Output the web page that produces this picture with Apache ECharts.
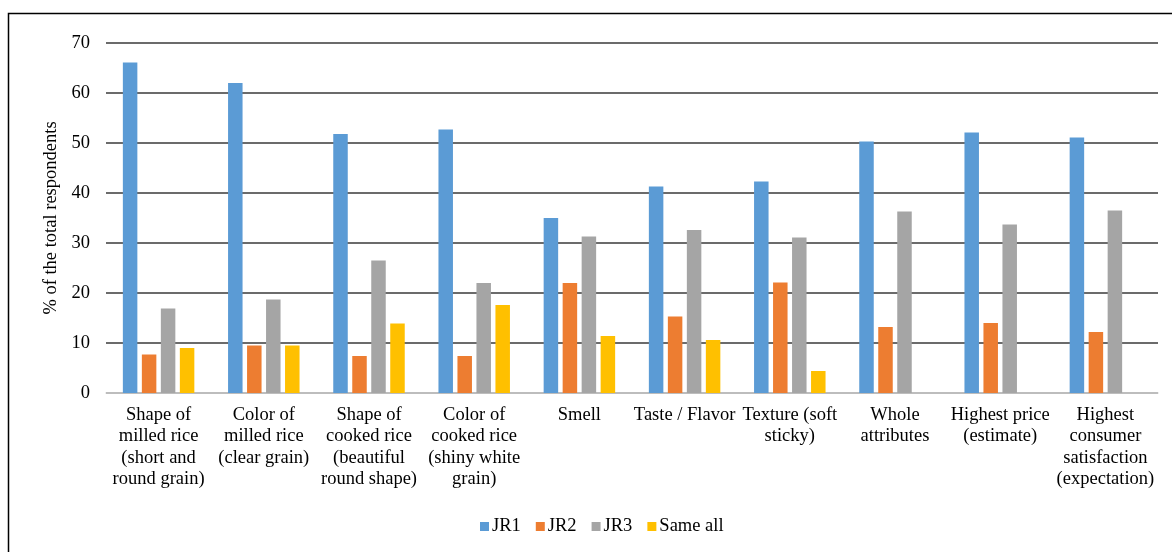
<!DOCTYPE html>
<html>
<head>
<meta charset="utf-8">
<title>Rice attribute preference</title>
<script src="https://cdn.jsdelivr.net/npm/echarts@6/dist/echarts.min.js"></script>
<style>
  html, body { margin: 0; padding: 0; background: #ffffff; }
  #chart { width: 1172px; height: 552px; }
</style>
</head>
<body>
<div id="chart"></div>
<script>
// Attribute categories (line breaks as they wrap under the axis)
const categories = [
  'Shape of\nmilled rice\n(short and\nround grain)',
  'Color of\nmilled rice\n(clear grain)',
  'Shape of\ncooked rice\n(beautiful\nround shape)',
  'Color of\ncooked rice\n(shiny white\ngrain)',
  'Smell',
  'Taste / Flavor',
  'Texture (soft\nsticky)',
  'Whole\nattributes',
  'Highest price\n(estimate)',
  'Highest\nconsumer\nsatisfaction\n(expectation)'
];

// % of respondents choosing each variety
const jr1 = [66.1, 62.0, 51.8, 52.7, 35.0, 41.3, 42.3, 50.3, 52.1, 51.1];
const jr2 = [7.7, 9.5, 7.4, 7.4, 22.0, 15.3, 22.1, 13.2, 14.0, 12.2];
const jr3 = [16.9, 18.7, 26.5, 22.0, 31.3, 32.6, 31.1, 36.3, 33.7, 36.5];
const sameAll = [9.0, 9.5, 13.9, 17.6, 11.4, 10.6, 4.4, null, null, null];

const seriesNames = ['JR1', 'JR2', 'JR3', 'Same all'];
const yTicks = { min: 0, max: 70, interval: 10 };
const yAxisTitle = '% of the total respondents';

const serif = '"Liberation Serif", "Times New Roman", serif';
const palette = ['#5B9BD5', '#ED7D31', '#A5A5A5', '#FFC000'];
const fontSize = 18.5;

const chart = echarts.init(document.getElementById('chart'), null, { renderer: 'canvas' });

const seriesData = [jr1, jr2, jr3, sameAll];

chart.setOption({
  animation: false,
  backgroundColor: '#ffffff',
  color: palette,
  textStyle: { fontFamily: serif, color: '#000' },
  graphic: [{
    type: 'rect',
    shape: { x: 8.5, y: 13.5, width: 1200, height: 600 },
    style: { fill: 'none', stroke: '#000', lineWidth: 1.5 },
    silent: true
  }],
  grid: { left: 106, right: 14, top: 43, bottom: 159 },
  legend: {
    data: seriesNames,
    left: 475,
    top: 512,
    itemWidth: 9,
    itemHeight: 9,
    itemGap: 15,
    icon: 'rect',
    textStyle: { fontFamily: serif, fontSize: fontSize, color: '#000', padding: [0, 0, 0, -2] }
  },
  xAxis: {
    type: 'category',
    data: categories,
    axisLine: { show: true, lineStyle: { color: '#d9d9d9', width: 1.5 } },
    axisTick: { show: false },
    axisLabel: {
      interval: 0,
      margin: 11,
      fontFamily: serif,
      fontSize: fontSize,
      lineHeight: 21.5,
      color: '#000',
      align: 'center'
    }
  },
  yAxis: {
    type: 'value',
    min: yTicks.min,
    max: yTicks.max,
    interval: yTicks.interval,
    name: yAxisTitle,
    nameLocation: 'middle',
    nameGap: 42,
    nameRotate: 90,
    nameTextStyle: { fontFamily: serif, fontSize: fontSize, color: '#000' },
    axisLine: { show: false },
    axisTick: { show: false },
    axisLabel: { fontFamily: serif, fontSize: fontSize, color: '#000', margin: 16 },
    splitLine: { lineStyle: { color: '#3a3a3a', width: 1.6 } }
  },
  series: seriesNames.map((name, i) => ({
    name: name,
    type: 'bar',
    data: seriesData[i],
    barWidth: 14.5,
    barGap: '31%',
    itemStyle: { color: palette[i] }
  }))
});
</script>
</body>
</html>
